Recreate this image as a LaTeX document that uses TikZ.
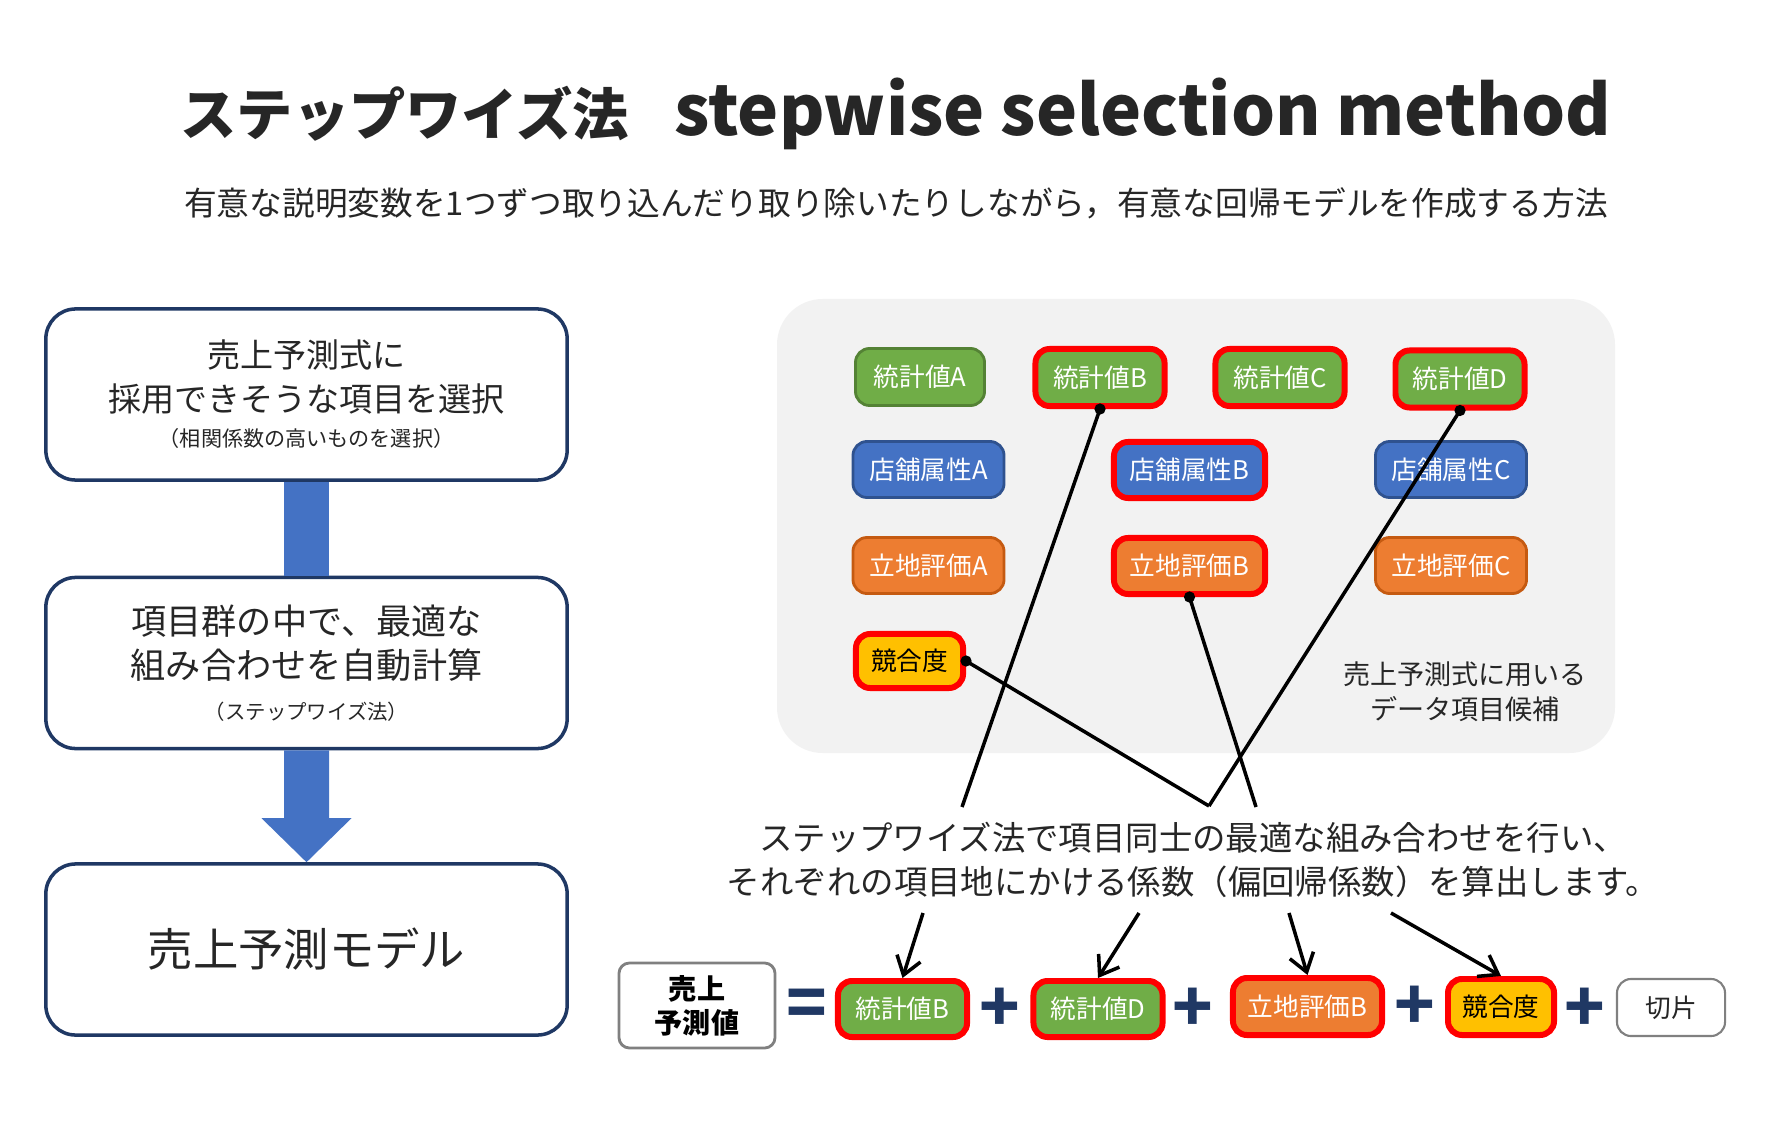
\documentclass[tikz,border=0pt]{standalone}
\usepackage{fontspec}
\setmainfont{Noto Sans CJK JP}
\usetikzlibrary{arrows.meta,calc}

\definecolor{textdark}{HTML}{262626}
\definecolor{navyline}{HTML}{1F3864}
\definecolor{flowblue}{HTML}{4472C4}
\definecolor{panelgray}{HTML}{F2F2F2}
\definecolor{statgreen}{HTML}{70AD47}
\definecolor{statline}{HTML}{548235}
\definecolor{shopblue}{HTML}{4472C4}
\definecolor{shopline}{HTML}{2F528F}
\definecolor{siteorange}{HTML}{ED7D31}
\definecolor{siteline}{HTML}{C55A11}
\definecolor{compyellow}{HTML}{FFC000}
\definecolor{eqgray}{HTML}{808080}
\definecolor{signnavy}{HTML}{203864}

\begin{document}
\begin{tikzpicture}[x=0.01cm,y=-0.01cm,
  flowbox/.style={draw=navyline, line width=1pt, rounded corners=8.5pt, fill=white,
    minimum width=5.21cm, minimum height=1.71cm, align=center, text=textdark},
  item/.style={rounded corners=4pt, text=white, inner sep=0pt, line width=0.8pt,
    font=\fontsize{7.3}{8}\selectfont},
  stat/.style={item, fill=statgreen, draw=statline, minimum width=1.29cm, minimum height=0.57cm},
  shop/.style={item, fill=shopblue, draw=shopline, minimum width=1.51cm, minimum height=0.56cm},
  site/.style={item, fill=siteorange, draw=siteline, minimum width=1.51cm, minimum height=0.56cm},
  comp/.style={item, fill=compyellow, text=black, minimum width=1.07cm, minimum height=0.54cm},
  chosen/.style={draw=red, line width=1.7pt},
  salesbox/.style={draw=eqgray, line width=0.8pt, rounded corners=3pt, fill=white, align=center,
    font=\fontsize{8}{9.7}\selectfont\bfseries, minimum width=1.56cm, minimum height=0.85cm},
  opsign/.style={text=signnavy, inner sep=0pt, font=\fontsize{19}{19}\selectfont\bfseries},
  joinline/.style={line width=1pt, black},
  pickarrow/.style={line width=1pt, black, -{Straight Barb[length=5pt,width=7pt]}}
]
  \useasboundingbox (0,0) rectangle (1792,1125);
  \fill[white] (0,0) rectangle (1792,1125);

  % Title
  \node[text=textdark] (title) at (896,114)
    {{\fontsize{16}{16}\selectfont\bfseries ステップワイズ法}\hspace{13pt}{\fontsize{19.7}{20}\selectfont\bfseries stepwise selection method}};
  \node[text=textdark, font=\fontsize{9.3}{11}\selectfont] (subtitle) at (896,203)
    {有意な説明変数を1つずつ取り込んだり取り除いたりしながら，有意な回帰モデルを作成する方法};

  % Flow on the left
  \node[flowbox, font=\fontsize{9.4}{12.5}\selectfont] (box1) at (306.5,394.5)
    {売上予測式に\\採用できそうな項目を選択\\[-2.5pt]{\fontsize{6}{7}\selectfont （相関係数の高いものを選択）}};
  \node[flowbox, font=\fontsize{10}{12.5}\selectfont] (box2) at (306.5,663)
    {項目群の中で、最適な\\組み合わせを自動計算\\[-1pt]{\fontsize{5.8}{7}\selectfont （ステップワイズ法）}};
  \node[flowbox, font=\fontsize{12.9}{14}\selectfont] (box3) at (306.5,949.5) {売上予測モデル};

  \fill[flowblue] ($(box1.south)+(-22.5,0)$) rectangle ($(box2.north)+(22.5,0)$);
  \fill[flowblue] ($(box2.south)+(-22.5,0)$) -- ($(box3.north)+(-22.5,-44)$)
    -- ($(box3.north)+(-45,-44)$) -- (box3.north) -- ($(box3.north)+(45,-44)$)
    -- ($(box3.north)+(22.5,-44)$) -- ($(box2.south)+(22.5,0)$) -- cycle;

  % Candidate items
  \fill[panelgray, rounded corners=13pt] (777,299) rectangle (1615,753);

  \node[stat] (statA) at (920,377) {統計値A};
  \node[stat, chosen] (statB) at (1100,377.5) {統計値B};
  \node[stat, chosen] (statC) at (1280,377.5) {統計値C};
  \node[stat, chosen] (statD) at (1460,379) {統計値D};
  \node[shop] (shopA) at (928.5,469.5) {店舗属性A};
  \node[shop, chosen] (shopB) at (1189.5,470) {店舗属性B};
  \node[shop] (shopC) at (1451,469.5) {店舗属性C};
  \node[site] (siteA) at (928.5,565.5) {立地評価A};
  \node[site, chosen] (siteB) at (1189.5,566) {立地評価B};
  \node[site] (siteC) at (1451,565.5) {立地評価C};
  \node[comp, chosen] (comp) at (909.5,661) {競合度};

  \node[text=textdark, align=center, font=\fontsize{7.7}{10}\selectfont] (poollabel) at (1465,692)
    {売上予測式に用いる\\データ項目候補};

  % Note in the middle
  \node[text=textdark, align=center, font=\fontsize{9.5}{12.5}\selectfont] (stepnote) at (1193,860)
    {ステップワイズ法で項目同士の最適な組み合わせを行い、\\それぞれの項目地にかける係数（偏回帰係数）を算出します。};

  \coordinate (j1) at (962,807);
  \coordinate (j2) at (1209,806);
  \coordinate (j3) at (1256,807);

  \draw[joinline] (statB.south) -- (j1);
  \draw[joinline] (statD.south) -- (j2);
  \draw[joinline] (siteB.south) -- (j3);
  \draw[joinline] (comp.east) -- (j2);

  \foreach \pt in {statB.south,statD.south,siteB.south,comp.east}
    \fill (\pt) circle (1.6pt);

  % Regression formula
  \node[salesbox] (sales) at (697,1005.5) {売上\\予測値};
  \node[opsign] (eq) at (807,1008) {=};
  \node[stat, chosen, minimum width=1.29cm, minimum height=0.56cm] (fB) at (902.5,1009) {統計値B};
  \node[opsign] (p1) at (1000,1010) {+};
  \node[stat, chosen, minimum width=1.29cm, minimum height=0.56cm] (fD) at (1098,1009) {統計値D};
  \node[opsign] (p2) at (1193,1010) {+};
  \node[site, chosen, minimum width=1.49cm, minimum height=0.57cm] (fSite) at (1307.5,1006.5) {立地評価B};
  \node[opsign] (p3) at (1415,1008) {+};
  \node[comp, chosen, minimum width=1.06cm, minimum height=0.56cm] (fComp) at (1501,1007) {競合度};
  \node[opsign] (p4) at (1585,1010) {+};
  \node[item, fill=white, draw=eqgray, line width=0.6pt, text=textdark,
    minimum width=1.08cm, minimum height=0.57cm] (fCut) at (1671,1007.5) {切片};

  \coordinate (a1) at (923,913);
  \coordinate (a2) at (1139,913);
  \coordinate (a3) at (1289,913);
  \coordinate (a4) at (1391,913);

  \draw[pickarrow] (a1) -- (fB.north);
  \draw[pickarrow] (a2) -- (fD.north);
  \draw[pickarrow] (a3) -- (fSite.north);
  \draw[pickarrow] (a4) -- (fComp.north);
\end{tikzpicture}
\end{document}
